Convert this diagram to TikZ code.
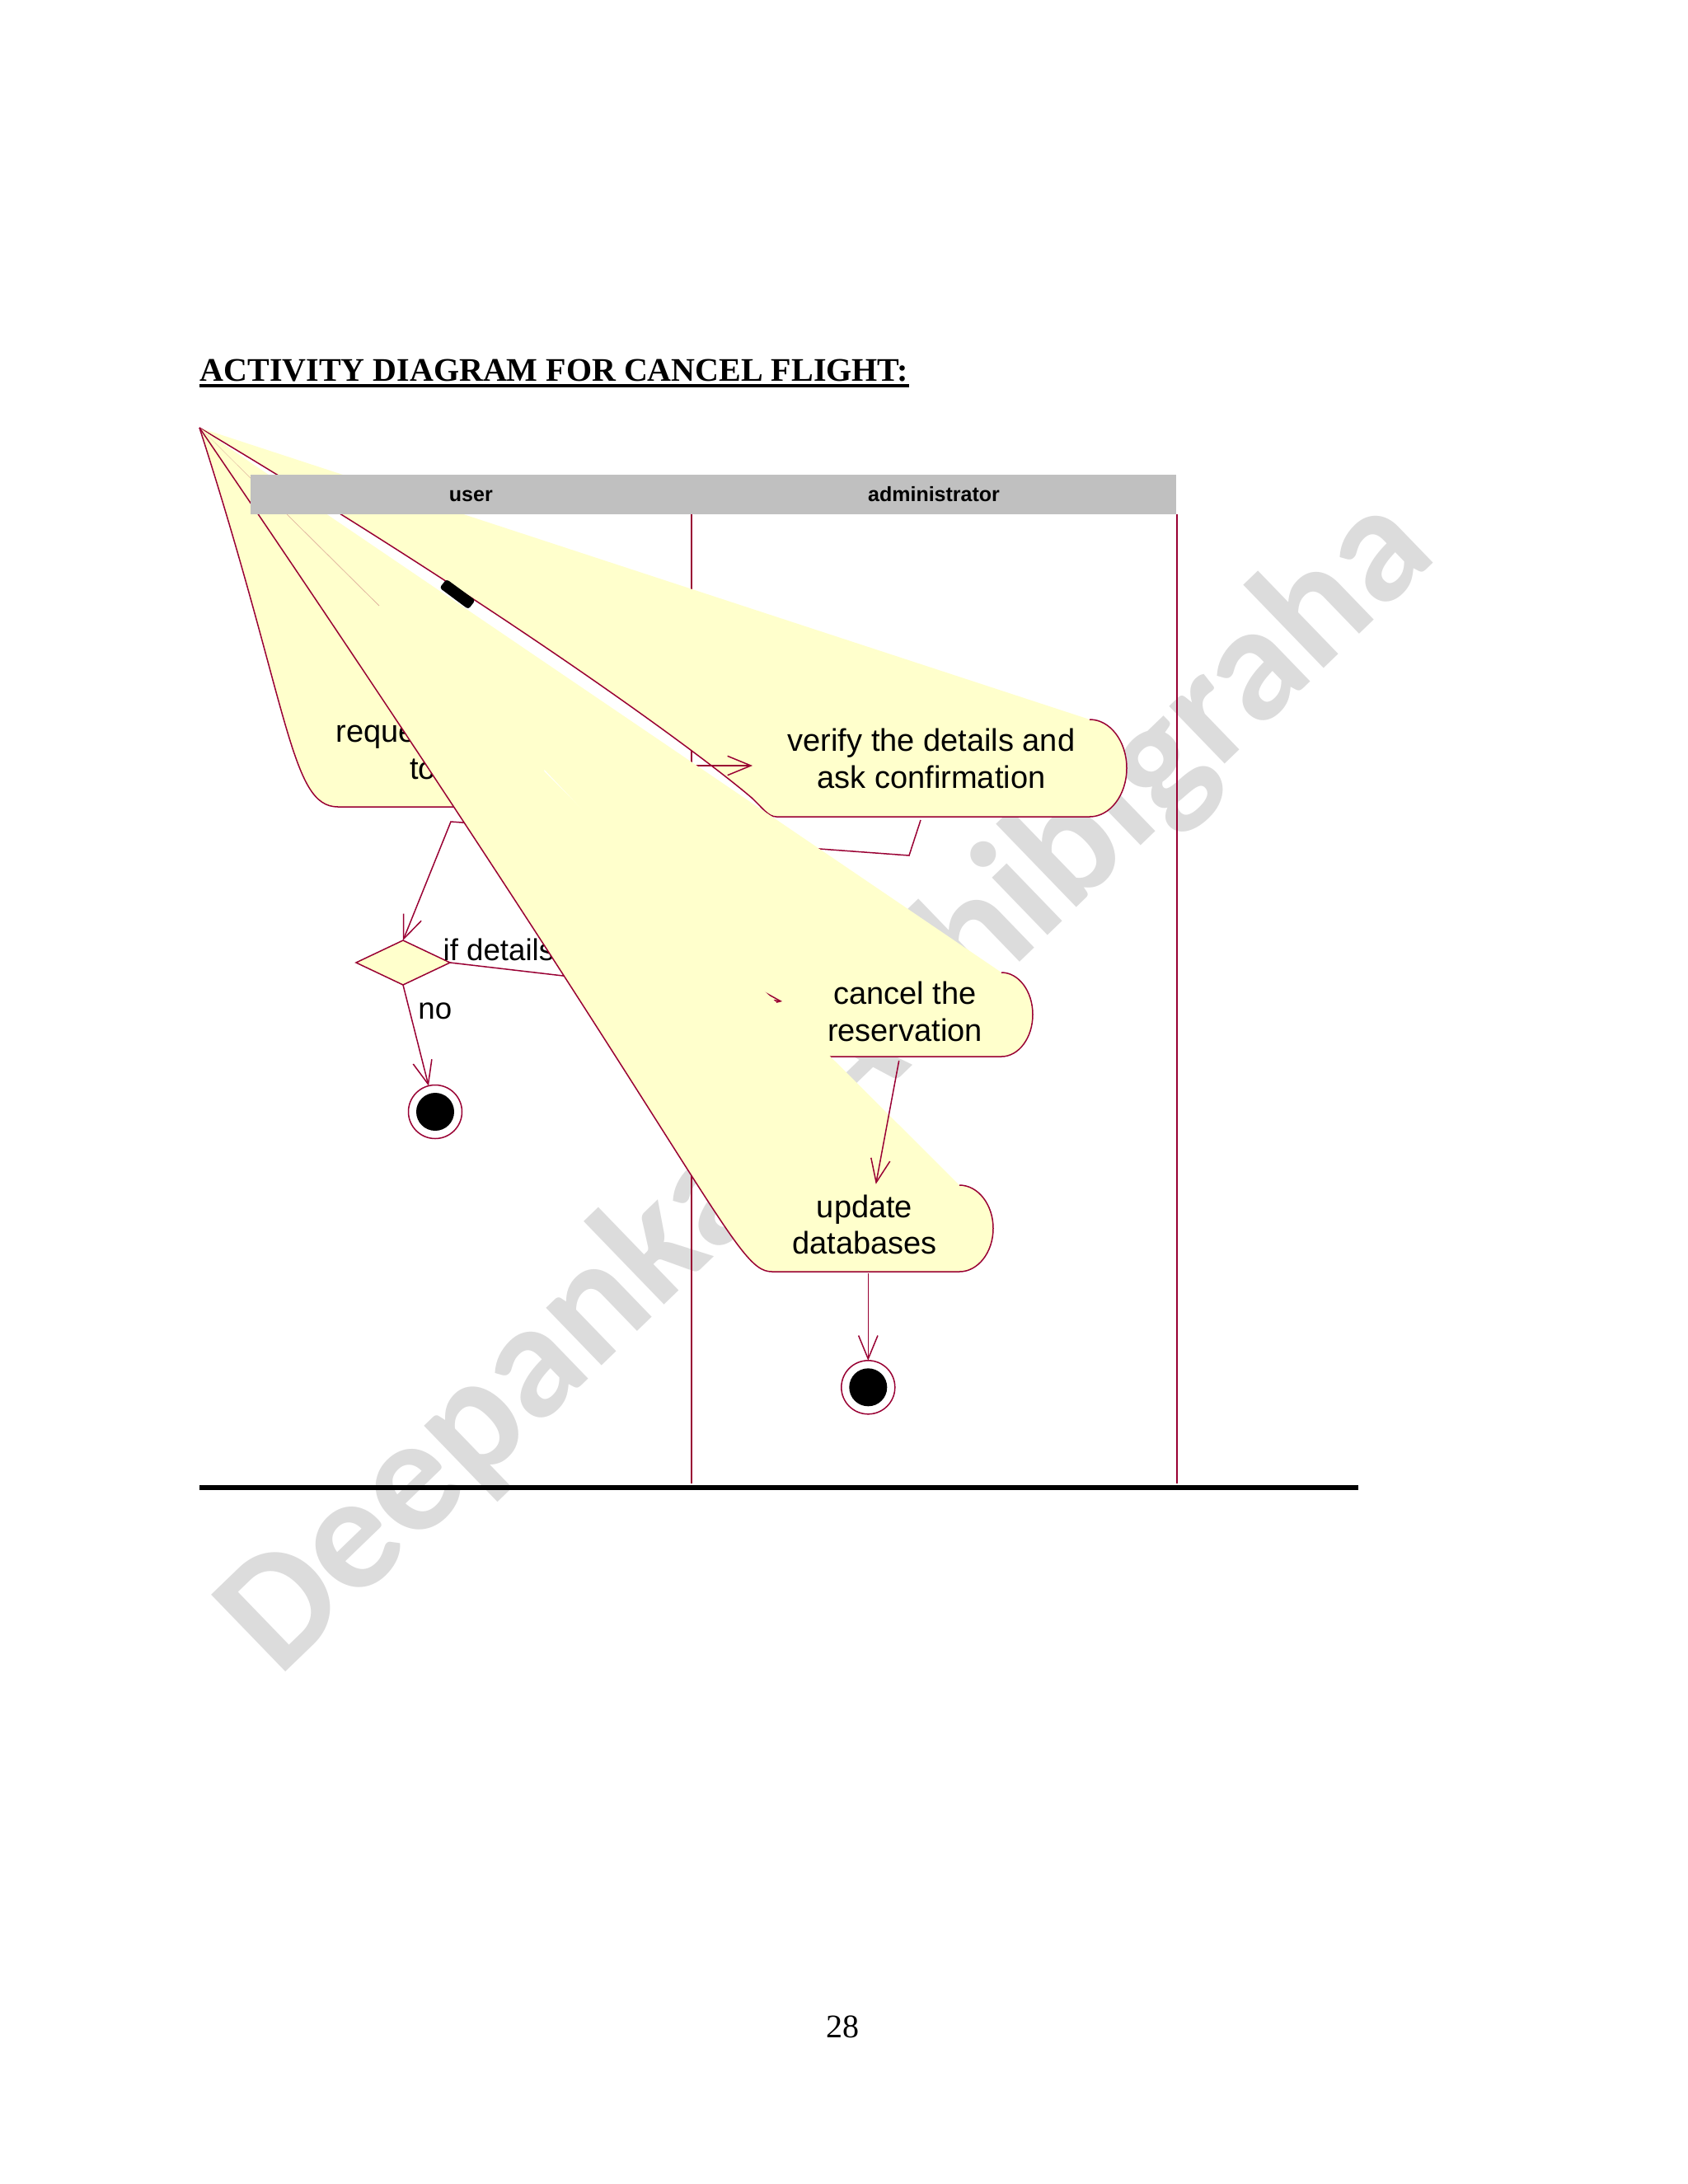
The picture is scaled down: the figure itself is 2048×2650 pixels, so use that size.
\documentclass[tikz,border=0pt]{standalone}
\usepackage{fontspec}
\setmainfont{Liberation Serif}
\setsansfont{Liberation Sans}
\newfontfamily\wmfont{Carlito}
\usetikzlibrary{shapes.geometric}
\usetikzlibrary{arrows.meta}
\usetikzlibrary{calc}
\definecolor{actyellow}{RGB}{255,255,204}
\definecolor{rosered}{RGB}{153,0,51}
\definecolor{lanegray}{RGB}{192,192,192}
\definecolor{wmgray}{RGB}{220,220,220}
\tikzset{
    actfill/.style = {fill=actyellow, draw=none},
    actline/.style = {draw=rosered, line width=0.45pt},
    act/.style = {fill=actyellow, draw=rosered, line width=0.45pt},
    acttext/.style = {align=center, anchor=base, inner sep=0pt, font=\sffamily\fontsize{11.4}{13.4}\selectfont, text=black},
    reqtext/.style = {anchor=base west, inner sep=0pt, font=\sffamily\fontsize{11.4}{13.4}\selectfont, text=black},
    guard/.style = {anchor=base west, inner sep=0pt, font=\sffamily\fontsize{11}{13}\selectfont, text=black},
    flow/.style = {-{Straight Barb[length=8.5pt,width=7pt]}, draw=rosered, line width=0.45pt},
    laneline/.style = {draw=rosered, line width=0.4pt},
    lanehd/.style = {fill=lanegray, anchor=north west, minimum height=14.4pt, inner sep=0pt, outer sep=0pt, text height=0.52em, text depth=0pt, font=\sffamily\bfseries\fontsize{7.5}{9}\selectfont},
    decision/.style = {diamond, draw=rosered, fill=actyellow, line width=0.45pt, minimum width=34.2pt, minimum height=16.2pt, inner sep=0pt, outer sep=0pt},
    endring/.style = {circle, draw=rosered, fill=white, line width=0.45pt, minimum size=19.5pt, inner sep=0pt, outer sep=0pt},
    enddot/.style = {circle, fill=black, minimum size=13.8pt, inner sep=0pt},
    startbar/.style = {fill=black, rounded corners=1pt},
    watermark/.style = {text=wmgray, font=\wmfont\bfseries\fontsize{60}{60}\selectfont, inner sep=0pt},
}

\begin{document}
\begin{tikzpicture}[x=0.010542cm, y=-0.010542cm]
\useasboundingbox (0,0) rectangle (2048,2650);
%
\node[watermark, rotate=44] (wm) at (1005,1318) {Deepankar Adhibigraha};
%
\coordinate (apex) at (242,519);
\coordinate (lanemid) at (839,624);
\coordinate (laneend) at (1428,624);
\draw[laneline] (lanemid) -- ++(0,1176);
\draw[laneline] (laneend) -- ++(0,1176);
%
\node[decision] (dec) at (489,1168) {};
\node[endring] (end1) at (528,1349) {};
\node[enddot] (end1dot) at (end1) {};
%
% verify the details
\filldraw[act] (1322,873) .. controls (1346.8,873) and (1367,899.4) .. (1367,932)
    .. controls (1367,964.6) and (1346.8,991) .. (1322,991) -- (942,991)
    .. controls (932,991) and (925,980) .. (912,968)
    .. controls (850,915) and (620,745) .. (apex);
\node[acttext] (verify) at (1130,956.4) {verify the details and\\ask confirmation};
%
% request
\fill[actfill] (612,861) .. controls (639.6,861) and (662,887.4) .. (662,920)
    .. controls (662,952.6) and (639.6,979) .. (612,979) -- (410,979)
    .. controls (352,979) and (352,861) .. (apex) -- cycle;
\draw[actline] (612,979) -- (410,979) .. controls (352,979) and (352,861) .. (apex);
\node[reqtext] (request) at (406.7,900) {reque};
\node[reqtext] (requestb) at (496.7,945) {to};
%
\coordinate (reqE) at (700,929);
\coordinate (verW) at (913,929);
\coordinate (verS) at (1117,995);
\draw[flow] (reqE) -- (verW);
\draw[flow] (verS) -- (1103,1038) -- (547,997) -- (dec.north);
%
% cancel the reservation
\fill[actfill] (1215,1180) .. controls (1236,1180) and (1253,1202.8) .. (1253,1231)
    .. controls (1253,1259.2) and (1236,1282) .. (1215,1282) -- (979,1282)
    .. controls (937,1282) and (937,1180) .. (apex) -- cycle;
\draw[actline] (1215,1180) .. controls (1236,1180) and (1253,1202.8) .. (1253,1231)
    .. controls (1253,1259.2) and (1236,1282) .. (1215,1282) -- (979,1282);
\node[acttext] (cancel) at (1098,1263) {cancel the\\reservation};
%
\coordinate (canW) at (949,1215);
\draw[flow] (dec.east) -- (canW);
\node[guard] (guardyes) at (537,1165) {if details};
\draw[rosered, opacity=0.3, line width=0.25pt] (apex) -- (460,735);
%
% update databases
\filldraw[act] (1164,1438) .. controls (1186.6,1438) and (1205,1461.5) .. (1205,1490.5)
    .. controls (1205,1519.5) and (1186.6,1543) .. (1164,1543) -- (936.7,1543)
    .. controls (890,1543) and (868,1438) .. (apex);
\node[acttext] (update) at (1049,1521.7) {update\\databases};
%
\coordinate (canS) at (1090.7,1287);
\coordinate (updN) at (1062.7,1436.7);
\coordinate (updS) at (1053.3,1545);
\draw[flow] (canS) -- (updN);
\node[endring] (end2) at (1053.3,1683.3) {};
\node[enddot] (end2dot) at (end2) {};
\draw[flow] (updS) -- (end2);
%
\coordinate (start) at (555,721);
\fill[startbar] (533.3,713.3) -- (541.7,702.7) -- (576.7,728.3) -- (568.3,739.3) -- cycle;
%
\draw[flow] (dec.south) -- (end1);
\node[guard] (guardno) at (506.7,1236.7) {no};
%
\node[lanehd, minimum width=160.4pt] (userhd) at (304,576) {user};
\node[lanehd, minimum width=176.6pt] (adminhd) at (userhd.north east) {administrator};
%
\node[anchor=base west, inner sep=0pt, font=\bfseries\fontsize{12}{14}\selectfont] (title) at (242,462) {ACTIVITY DIAGRAM FOR CANCEL FLIGHT:};
\draw[line width=1.1pt] ($(title.base west)+(0,6)$) -- ($(title.base east)+(0,6)$);
\draw[line width=1.7pt] (242,1805) -- (1648,1805);
\node[anchor=base, inner sep=0pt, font=\fontsize{12}{14}\selectfont] (pagenum) at (1022,2472) {28};
\end{tikzpicture}
\end{document}
